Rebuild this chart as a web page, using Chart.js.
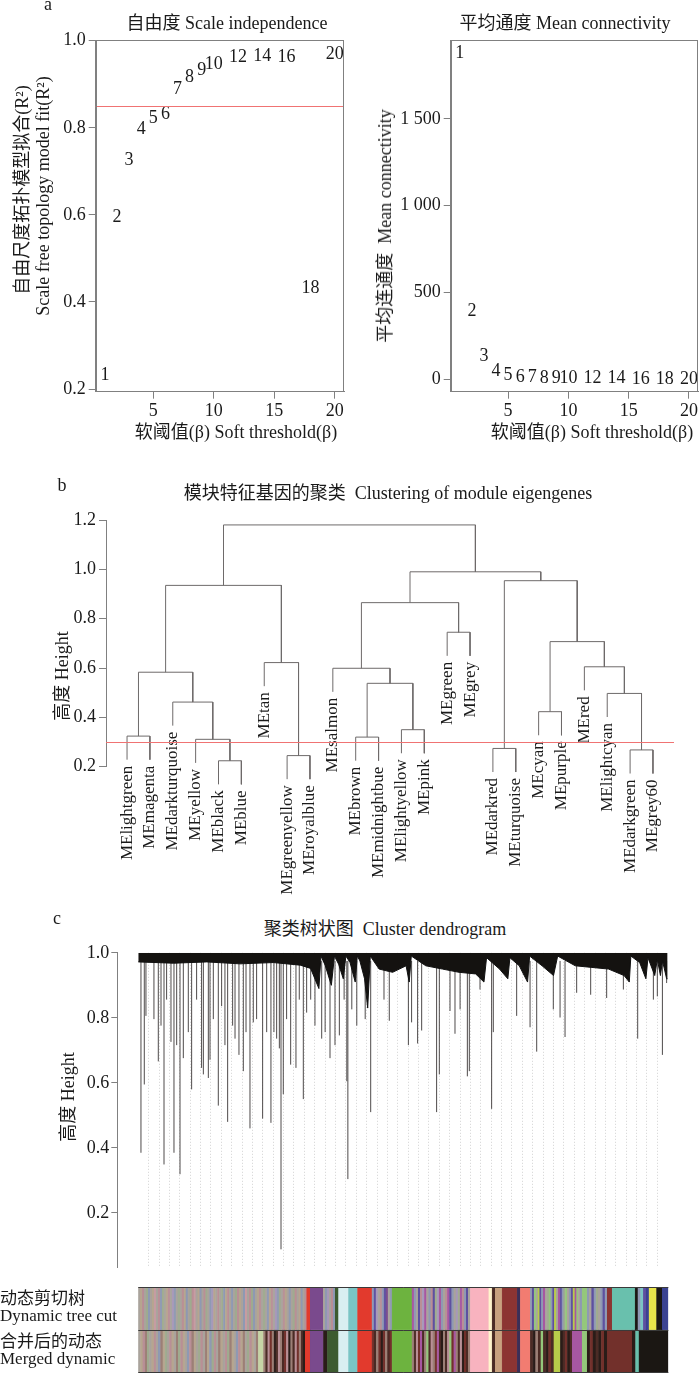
<!DOCTYPE html>
<html>
<head>
<meta charset="utf-8">
<script src="https://cdn.jsdelivr.net/npm/chart.js@4.4.1/dist/chart.umd.min.js"></script>
<style>
body{margin:0;background:#fff;width:700px;height:1390px;position:relative;overflow:hidden;
  font-family:"Liberation Serif","Noto Sans CJK SC",serif;color:#1a1a1a}
canvas{position:absolute}
.t{position:absolute;white-space:nowrap;font-size:18px;line-height:1;transform:translate(-50%,-50%)}
.v{transform:translate(-50%,-50%) rotate(-90deg)}
</style>
</head>
<body>
<canvas id="fitChart" width="360" height="450" style="left:0;top:0"></canvas>
<canvas id="connChart" width="340" height="450" style="left:360px;top:0"></canvas>
<canvas id="meChart" width="700" height="440" style="left:0;top:470px"></canvas>
<canvas id="geneChart" width="700" height="340" style="left:0;top:940px"></canvas>
<canvas id="colorChart" width="700" height="120" style="left:0;top:1270px"></canvas>

<div class="t" style="left:48px;top:4px">a</div>
<div class="t" style="left:227px;top:23px">自由度 Scale independence</div>
<div class="t v" style="left:22px;top:190px">自由尺度拓扑模型拟合(R²)</div>
<div class="t v" style="left:43px;top:196px">Scale free topology model fit(R²)</div>
<div class="t" style="left:236px;top:432px">软阈值(β) Soft threshold(β)</div>
<div class="t" style="left:565px;top:23px">平均通度 Mean connectivity</div>
<div class="t v" style="left:385px;top:226px">平均连通度&nbsp; Mean connectivity</div>
<div class="t" style="left:592px;top:432px">软阈值(β) Soft threshold(β)</div>

<div class="t" style="left:62px;top:485px">b</div>
<div class="t" style="left:388px;top:493px">模块特征基因的聚类&nbsp; Clustering of module eigengenes</div>
<div class="t v" style="left:62px;top:676px">高度 Height</div>

<div class="t" style="left:57px;top:918px">c</div>
<div class="t" style="left:385px;top:929px">聚类树状图&nbsp; Cluster dendrogram</div>
<div class="t v" style="left:68px;top:1097px">高度 Height</div>

<script>
// ---- panel a: soft threshold picking
const powers = [1, 2, 3, 4, 5, 6, 7, 8, 9, 10, 12, 14, 16, 18, 20];
const scaleFitR2 = [0.232, 0.594, 0.726, 0.797, 0.822, 0.832, 0.888, 0.915, 0.933, 0.946, 0.962, 0.965, 0.963, 0.431, 0.969];
const meanConnectivity = [1878, 388, 129, 46, 23, 12, 9, 7, 5, 4, 3, 2, 1.5, 1, 0.8];
const powerTicks = [5, 10, 15, 20];
const r2Ticks = [0.2, 0.4, 0.6, 0.8, 1.0];
const connTicks = [0, 500, 1000, 1500];
const connTickLabels = ['0', '500', '1 000', '1 500'];
const r2Cut = 0.85;

// ---- panel b: module eigengene clustering (leaf order, R style merge matrix)
const moduleLabels = ['MElightgreen', 'MEmagenta', 'MEdarkturquoise', 'MEyellow', 'MEblack', 'MEblue',
  'MEtan', 'MEgreenyellow', 'MEroyalblue', 'MEsalmon', 'MEbrown', 'MEmidnightbue', 'MElightyellow',
  'MEpink', 'MEgreen', 'MEgrey', 'MEdarkred', 'MEturquoise', 'MEcyan', 'MEpurple', 'MEred',
  'MElightcyan', 'MEdarkgreen', 'MEgrey60'];
const mergePairs = [[-5, -6], [-8, -9], [-23, -24], [-17, -18], [-4, 1], [-11, -12], [-1, -2], [-13, -14],
  [-19, -20], [-3, 5], [-22, 3], [6, 8], [7, 10], [-10, 12], [-21, 11], [-7, 2], [9, 15], [-15, -16],
  [14, 18], [13, 16], [4, 17], [19, 21], [20, 22]];
const mergeHeights = [0.224, 0.245, 0.268, 0.274, 0.311, 0.320, 0.324, 0.350, 0.423, 0.462, 0.497, 0.538,
  0.583, 0.599, 0.605, 0.622, 0.707, 0.745, 0.865, 0.935, 0.954, 0.990, 1.180];
const meTicks = [0.2, 0.4, 0.6, 0.8, 1.0, 1.2];
const meCut = 0.3;

// ---- panel c: gene dendrogram (x in leaf-block units 0..51)
const massU = [0, 3.4, 6.6, 9.8, 13.0, 15.6, 16.6, 17.4, 17.6, 18.0, 18.6, 18.9, 19.3, 19.75, 20.0, 20.4,
  20.9, 21.1, 21.35, 21.8, 22.1, 22.35, 23.2, 24.5, 25.8, 26.1, 26.3, 27.7, 29.3, 30.9, 32.5, 33.3, 33.55,
  34.8, 35.6, 35.8, 36.7, 37.5, 37.7, 38.9, 40.0, 40.4, 42.1, 43.7, 45.3, 46.8, 47.3, 47.45, 48.3, 48.9,
  49.1, 49.75, 50.0, 50.3, 50.5, 50.9, 51.0];
const massH = [0.972, 0.968, 0.972, 0.966, 0.970, 0.962, 0.952, 0.89, 0.99, 0.962, 0.90, 0.99, 0.965, 0.92,
  0.99, 0.97, 0.91, 0.99, 0.975, 0.92, 0.83, 0.99, 0.95, 0.94, 0.96, 0.91, 0.99, 0.96, 0.95, 0.94, 0.935,
  0.91, 0.985, 0.95, 0.92, 0.985, 0.96, 0.91, 0.99, 0.96, 0.93, 0.99, 0.96, 0.955, 0.95, 0.93, 0.91, 0.99,
  0.97, 0.92, 0.985, 0.93, 0.98, 0.93, 0.975, 0.92, 0.92];
const dropU = [0.26, 0.58, 0.74, 1.51, 1.93, 2.19, 2.48, 2.73, 3.15, 3.44, 3.70, 4.02, 4.34, 4.82, 5.14, 5.62,
  6.10, 6.27, 6.75, 6.91, 7.23, 7.71, 8.03, 8.35, 8.61, 9.09, 9.32, 9.70, 10.12, 10.38, 10.76, 11.08, 11.40,
  11.98, 12.37, 12.78, 13.07, 13.33, 13.59, 13.75, 13.97, 14.29, 14.68, 15.19, 15.51, 15.90, 16.22, 16.61,
  17.02, 17.67, 18.0, 18.47, 18.95, 19.37, 19.83, 20.09, 20.19, 20.57, 21.05, 21.86, 22.39, 23.67, 24.18,
  26.02, 26.33, 26.91, 27.30, 28.74, 29.0, 30.03, 30.51, 31.0, 31.70, 31.89, 32.92, 34.04, 34.2, 36.45,
  37.74, 38.38, 39.98, 40.63, 41.11, 42.23, 43.58, 45.12, 46.73, 48.11, 49.62, 50.0, 50.49, 50.9];
const dropH = [0.385, 0.595, 0.806, 0.796, 0.666, 0.776, 0.349, 0.856, 0.726, 0.385, 0.716, 0.319, 0.676,
  0.756, 0.580, 0.856, 0.646, 0.626, 0.615, 0.671, 0.796, 0.530, 0.836, 0.716, 0.480, 0.776, 0.736, 0.686,
  0.636, 0.756, 0.460, 0.786, 0.796, 0.490, 0.756, 0.477, 0.756, 0.736, 0.706, 0.088, 0.565, 0.796, 0.656,
  0.646, 0.856, 0.550, 0.816, 0.856, 0.776, 0.736, 0.756, 0.676, 0.716, 0.746, 0.856, 0.605, 0.304, 0.826,
  0.776, 0.796, 0.510, 0.856, 0.791, 0.716, 0.786, 0.721, 0.761, 0.510, 0.626, 0.821, 0.751, 0.826, 0.620,
  0.636, 0.887, 0.520, 0.756, 0.806, 0.771, 0.696, 0.826, 0.801, 0.741, 0.877, 0.871, 0.861, 0.887, 0.736,
  0.856, 0.866, 0.686, 0.907];
const geneTicks = [0.2, 0.4, 0.6, 0.8, 1.0];

// module colour rows: [from, to, stripes]; a stripe string is spread evenly over the span
const stripeColors = {
  g: '#a9a39c', r: '#b98f96', s: '#9fab8f', b: '#8f99b3', t: '#b6a58f', p: '#a798b9', h: '#c79ca2',
  o: '#9c7f76', x: '#4b2b25', q: '#2a1c18', w: '#72302b', n: '#c6d4a6', R: '#e23a2d', P: '#7a4a8d',
  L: '#d9eff1', C: '#7ac5c5', G: '#6db33f', K: '#f8b3bf', Y: '#fff4cc', N: '#c8a17f', M: '#8c3432',
  V: '#3c2e56', S: '#f27c71', u: '#5e50a0', m: '#a757a1', l: '#94c77b', y: '#b8cc4a', T: '#69c0ad',
  E: '#e9e54b', k: '#1b1713', B: '#3b4392', d: '#3d5b30'
};
const dynamicCut = [
  [0, 16.2, 'gtrgsbgthgrbsgtrgpbgsgrtbgsrhgtbgrsgbptgrgsbtrgbgsrtgbhgrsbgtrgsgbtrgpbsgrtgbgsrgtbgr'],
  [16.2, 16.55, 'R'], [16.55, 17.8, 'P'], [17.8, 18.95, 'gbpgrb'], [18.95, 19.27, 'd'],
  [19.27, 20.23, 'L'], [20.23, 21.1, 'C'], [21.1, 22.48, 'R'], [22.48, 24.41, 'bupgrbuPgb'],
  [24.41, 26.33, 'G'], [26.33, 31.96, 'mbgurpmgbruspmbgrmubgpsmrbug'], [31.96, 33.72, 'K'],
  [33.72, 34.04, 'Y'], [34.04, 34.36, 'x'], [34.36, 35.0, 'N'], [35.0, 36.45, 'M'], [36.45, 36.77, 'V'],
  [36.77, 37.73, 'S'], [37.73, 42.71, 'bulgyubmgslbuygmubslgbuymlgb'], [42.71, 43.19, 'l'],
  [43.19, 45.12, 'bgubsgbub'], [45.12, 45.6, 'M'], [45.6, 47.53, 'T'], [47.53, 49.14, 'TkbCuB'],
  [49.14, 49.87, 'E'], [49.87, 50.42, 'k'], [50.42, 51.0, 'B']
];
const mergedDynamic = [
  [0, 11.56, 'gtrosgtrgbotsgrtgosrtgbrotgsrgotbsrgotgrsotgbrtogsrtgo'], [11.56, 12.05, 'n'],
  [12.05, 16.06, 'oxrwoqxroxwrqoxrwoxq'], [16.06, 16.54, 'R'], [16.54, 17.82, 'P'], [17.82, 18.2, 'q'],
  [18.2, 19.27, 'd'], [19.27, 20.23, 'L'], [20.23, 21.1, 'C'], [21.1, 22.48, 'R'],
  [22.48, 24.41, 'wxowqwoxw'], [24.41, 26.33, 'G'], [26.33, 31.96, 'oxrwmxolxrowmxqoxrlwmoxrqwxo'],
  [31.96, 33.72, 'K'], [33.72, 34.04, 'Y'], [34.04, 34.36, 'x'], [34.36, 35.0, 'N'], [35.0, 36.45, 'M'],
  [36.45, 36.77, 'V'], [36.77, 37.73, 'S'], [37.73, 39.98, 'xqoxlxqwx'], [39.98, 40.62, 'y'],
  [40.62, 41.75, 'qxwqx'], [41.75, 42.71, 'm'], [42.71, 43.19, 'l'], [43.19, 45.12, 'qwqxqwq'],
  [45.12, 47.53, 'w'], [47.53, 47.85, 'q'], [47.85, 48.17, 'T'], [48.17, 51.0, 'k']
];
const rowKeys = ['dynamic', 'merged'];
const rowLabels = [['动态剪切树', 'Dynamic tree cut'], ['合并后的动态', 'Merged dynamic']];

// ------------------------------------------------------------------
const serif = '"Liberation Serif", "Noto Sans CJK SC", serif';
const tickFont = { family: serif, size: 18 };
const ink = '#1a1a1a';
const axisGrey = '#808080';
const setTicks = list => s => { s.ticks = list.map(v => ({ value: v })); };

const hline = {
  id: 'hline',
  afterDatasetsDraw(chart, args, opts) {
    const { ctx, chartArea: a, scales: { y } } = chart;
    const py = Math.round(y.getPixelForValue(opts.value)) + 0.5;
    ctx.save();
    ctx.strokeStyle = opts.color;
    ctx.lineWidth = 1;
    ctx.beginPath();
    ctx.moveTo(a.left, py);
    ctx.lineTo(a.right, py);
    ctx.stroke();
    ctx.restore();
  }
};

const boxFrame = {
  id: 'boxFrame',
  afterDraw(chart) {
    const { ctx, chartArea: a } = chart;
    ctx.save();
    ctx.strokeStyle = axisGrey;
    ctx.lineWidth = 1;
    ctx.strokeRect(Math.round(a.left) + 0.5, Math.round(a.top) + 0.5,
      Math.round(a.right - a.left) - 1, Math.round(a.bottom - a.top) - 1);
    ctx.restore();
  }
};

const pointText = {
  id: 'pointText',
  afterDatasetsDraw(chart) {
    const ctx = chart.ctx;
    ctx.save();
    ctx.font = '18px ' + serif;
    ctx.fillStyle = ink;
    ctx.textAlign = 'center';
    ctx.textBaseline = 'middle';
    chart.getDatasetMeta(0).data.forEach((el, i) => ctx.fillText(String(powers[i]), el.x, el.y));
    ctx.restore();
  }
};

function softChart(id, values, yMin, yMax, yTicks, yLabel, yWidth, rightPad, cut) {
  new Chart(document.getElementById(id), {
    type: 'scatter',
    data: {
      datasets: [{
        data: powers.map((p, i) => ({ x: p, y: values[i] })),
        pointRadius: 0,
        pointHoverRadius: 0,
        clip: false
      }]
    },
    options: {
      responsive: false,
      animation: false,
      events: [],
      layout: { autoPadding: false, padding: { top: 40, right: rightPad, left: 0, bottom: 0 } },
      scales: {
        x: {
          type: 'linear', min: 0.24, max: 20.76,
          afterBuildTicks: setTicks(powerTicks),
          afterFit: s => { s.height = 58.3; },
          grid: { drawOnChartArea: false, tickLength: 7, color: axisGrey },
          border: { color: axisGrey },
          ticks: { font: tickFont, color: ink, padding: 2, maxRotation: 0 }
        },
        y: {
          type: 'linear', min: yMin, max: yMax,
          afterBuildTicks: setTicks(yTicks),
          afterFit: s => { s.width = yWidth; },
          grid: { drawOnChartArea: false, tickLength: 7, color: axisGrey },
          border: { color: axisGrey },
          ticks: { font: tickFont, color: ink, padding: 3, callback: yLabel }
        }
      },
      plugins: {
        legend: { display: false },
        tooltip: { enabled: false },
        hline: { value: cut, color: '#f07373' }
      }
    },
    plugins: cut == null ? [pointText, boxFrame] : [pointText, boxFrame, hline]
  });
}

softChart('fitChart', scaleFitR2, 0.194, 1.0016, r2Ticks, v => v.toFixed(1), 95.7, 16, r2Cut);
softChart('connChart', meanConnectivity, -73, 1955, connTicks,
  v => connTickLabels[connTicks.indexOf(v)], 90.7, 1, null);

// ---- panel b
const hangB = 0.1 * (Math.max(...mergeHeights) - Math.min(...mergeHeights));
const mid = [];
const leafEnd = [];
const dendroPts = [];
mergePairs.forEach((pair, k) => {
  const top = mergeHeights[k];
  const ends = pair.map(n => {
    if (n < 0) {
      leafEnd[-n - 1] = top - hangB;
      return { x: -n, y: top - hangB };
    }
    return { x: mid[n - 1], y: mergeHeights[n - 1] };
  });
  mid[k] = (ends[0].x + ends[1].x) / 2;
  dendroPts.push(ends[0], { x: ends[0].x, y: top }, { x: ends[1].x, y: top }, ends[1], { x: ends[1].x, y: null });
});

const leafText = {
  id: 'leafText',
  afterDatasetsDraw(chart) {
    const { ctx, scales: { x, y } } = chart;
    ctx.save();
    ctx.font = '17px ' + serif;
    ctx.fillStyle = ink;
    ctx.textAlign = 'right';
    ctx.textBaseline = 'middle';
    moduleLabels.forEach((name, i) => {
      ctx.save();
      ctx.translate(x.getPixelForValue(i + 1), y.getPixelForValue(leafEnd[i]) + 6);
      ctx.rotate(-Math.PI / 2);
      ctx.fillText(name, 0, 0);
      ctx.restore();
    });
    ctx.restore();
  }
};

new Chart(document.getElementById('meChart'), {
  type: 'line',
  data: {
    datasets: [{
      data: dendroPts,
      borderColor: '#6e6a6a',
      borderWidth: 1,
      pointRadius: 0,
      tension: 0,
      clip: false
    }]
  },
  options: {
    responsive: false,
    animation: false,
    events: [],
    layout: { autoPadding: false, padding: { top: 50, right: 26, left: 0, bottom: 143.3 } },
    scales: {
      x: { type: 'linear', min: 0.08, max: 24.92, display: false },
      y: {
        type: 'linear', min: 0.2, max: 1.2,
        afterBuildTicks: setTicks(meTicks),
        afterFit: s => { s.width = 106; },
        grid: { drawOnChartArea: false, tickLength: 7, color: axisGrey },
        border: { color: axisGrey },
        ticks: { font: tickFont, color: ink, padding: 3, callback: v => v.toFixed(1) }
      }
    },
    plugins: {
      legend: { display: false },
      tooltip: { enabled: false },
      hline: { value: meCut, color: '#f07373' }
    }
  },
  plugins: [leafText, hline]
});

// ---- panel c: gene tree
const dropPts = [];
dropU.forEach((u, i) => {
  dropPts.push({ x: u, y: dropH[i] }, { x: u, y: 0.975 }, { x: u, y: null });
});
const leafGrid = [];
for (let i = 1; i <= 50; i++) leafGrid.push(i);

new Chart(document.getElementById('geneChart'), {
  type: 'line',
  data: {
    datasets: [
      {
        data: massU.map((u, i) => ({ x: u, y: massH[i] })),
        borderColor: '#111',
        backgroundColor: '#141210',
        borderWidth: 1,
        pointRadius: 0,
        fill: 'end',
        order: 0
      },
      {
        data: dropPts,
        borderColor: '#4e4a4a',
        borderWidth: 1,
        pointRadius: 0,
        order: 1
      }
    ]
  },
  options: {
    responsive: false,
    animation: false,
    events: [],
    layout: { autoPadding: false, padding: { top: 12.3, right: 32.3, left: 0, bottom: 6.7 } },
    scales: {
      x: {
        type: 'linear', min: -2.02, max: 51.0,
        afterBuildTicks: setTicks(leafGrid),
        afterFit: s => { s.height = 0; },
        grid: { color: '#d2d2d2', drawTicks: false },
        border: { display: false, dash: [1, 2] },
        ticks: { display: false }
      },
      y: {
        type: 'linear', min: 0.033, max: 1.0,
        afterBuildTicks: setTicks(geneTicks),
        afterFit: s => { s.width = 117.3; },
        grid: { drawOnChartArea: false, tickLength: 6, color: axisGrey },
        border: { color: axisGrey },
        ticks: { font: tickFont, color: ink, padding: 2, callback: v => v.toFixed(1) }
      }
    },
    plugins: { legend: { display: false }, tooltip: { enabled: false } }
  }
});

// ---- panel c: module colour rows
const colorSegs = [];
const colorFill = [];
[dynamicCut, mergedDynamic].forEach((row, r) => {
  row.forEach(([from, to, stripes]) => {
    const w = (to - from) / stripes.length;
    [...stripes].forEach((c, j) => {
      colorSegs.push({ x: [from + j * w, from + (j + 1) * w], y: rowKeys[r] });
      colorFill.push(stripeColors[c]);
    });
  });
});

const rowLines = {
  id: 'rowLines',
  afterDatasetsDraw(chart) {
    const { ctx, chartArea: a } = chart;
    const m = Math.round((a.top + a.bottom) / 2) + 0.5;
    ctx.save();
    ctx.strokeStyle = '#3a3a3a';
    ctx.lineWidth = 1;
    ctx.beginPath();
    [Math.round(a.top) + 0.5, m, Math.round(a.bottom) - 0.5].forEach(py => {
      ctx.moveTo(a.left, py);
      ctx.lineTo(a.right, py);
    });
    ctx.stroke();
    ctx.restore();
  }
};

new Chart(document.getElementById('colorChart'), {
  type: 'bar',
  data: {
    labels: rowKeys,
    datasets: [{
      data: colorSegs,
      backgroundColor: colorFill,
      borderColor: colorFill,
      borderWidth: 0.5,
      borderSkipped: false,
      barPercentage: 1,
      categoryPercentage: 1
    }]
  },
  options: {
    indexAxis: 'y',
    responsive: false,
    animation: false,
    events: [],
    layout: { autoPadding: false, padding: { top: 8, right: 31.7, left: 0, bottom: 1.7 } },
    scales: {
      x: { type: 'linear', min: 0, max: 51, display: false },
      y: {
        type: 'category',
        afterFit: s => { s.width = 138.3; },
        grid: { display: false },
        border: { display: false },
        ticks: {
          font: { family: serif, size: 17, lineHeight: 1.0 }, color: ink, crossAlign: 'far', padding: 0,
          callback: (v, i) => rowLabels[i]
        }
      }
    },
    plugins: { legend: { display: false }, tooltip: { enabled: false } }
  },
  plugins: [rowLines]
});
</script>
</body>
</html>
